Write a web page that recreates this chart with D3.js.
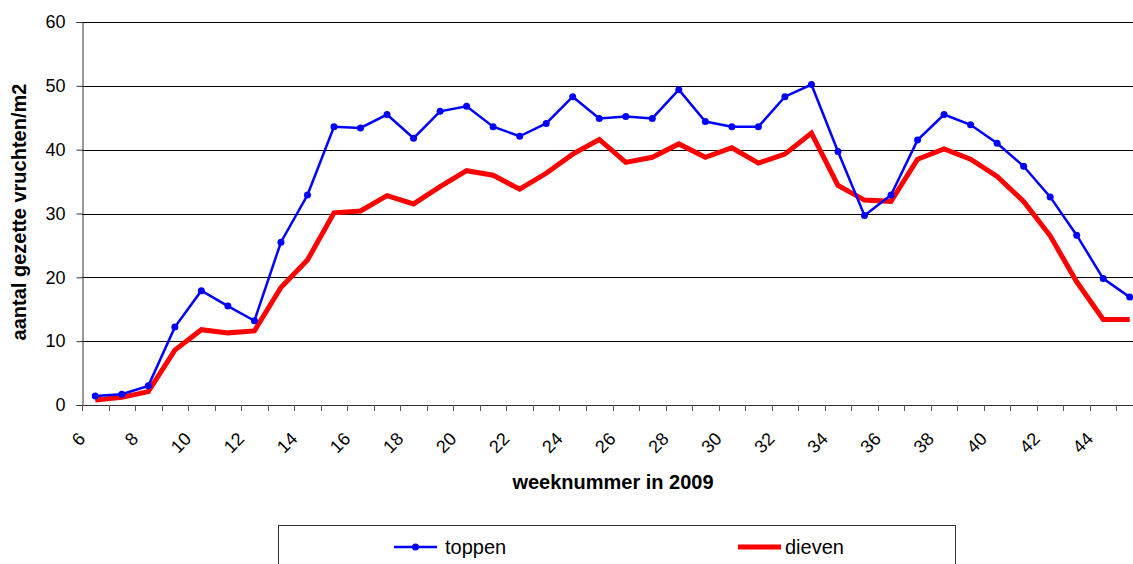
<!DOCTYPE html>
<html>
<head>
<meta charset="utf-8">
<script src="https://cdn.jsdelivr.net/npm/d3@7"></script>
<style>
  html, body { margin: 0; padding: 0; background: #fff; }
  svg { display: block; }
  text { font-family: "Liberation Sans", Arial, sans-serif; fill: #000; }
</style>
</head>
<body>
<svg id="chart" width="1133" height="564"></svg>
<script>
// Week numbers (categories) and counts of set fruits per m2
const weeks = d3.range(6, 46);
const toppen = [1.4, 1.7, 3.0, 12.2, 17.9, 15.5, 13.2, 25.5, 32.9, 43.6,
                43.4, 45.5, 41.8, 46.0, 46.8, 43.6, 42.1, 44.1, 48.3, 44.9,
                45.2, 44.9, 49.4, 44.4, 43.6, 43.6, 48.3, 50.2, 39.7, 29.7,
                32.9, 41.5, 45.5, 43.9, 41.0, 37.4, 32.6, 26.6, 19.8, 16.9];
const dieven = [0.8, 1.2, 2.1, 8.6, 11.8, 11.3, 11.6, 18.4, 22.7, 30.1,
                30.4, 32.8, 31.5, 34.2, 36.7, 36.0, 33.8, 36.3, 39.3, 41.6,
                38.0, 38.8, 40.9, 38.8, 40.3, 37.9, 39.3, 42.6, 34.4, 32.1,
                31.9, 38.5, 40.1, 38.5, 35.8, 31.9, 26.5, 19.3, 13.4, 13.4];
const yTicks = [0, 10, 20, 30, 40, 50, 60];
const xLabelWeeks = weeks.filter(w => w % 2 === 0);

const svg = d3.select("#chart");
const plotLeft = 82, plotRight = 1143, plotTop = 22, plotBottom = 405;

const x = d3.scaleBand().domain(weeks).range([plotLeft, plotRight]).padding(0);
const y = d3.scaleLinear().domain([0, 60]).range([plotBottom, plotTop]);
const cx = w => x(w) + x.bandwidth() / 2;

// horizontal gridlines
svg.append("g")
  .selectAll("line")
  .data(yTicks.filter(t => t > 0))
  .join("line")
  .attr("x1", plotLeft).attr("x2", plotRight)
  .attr("y1", d => Math.round(y(d)) + 0.5)
  .attr("y2", d => Math.round(y(d)) + 0.5)
  .attr("stroke", "#000").attr("stroke-width", 1);

// y axis
const yAxis = svg.append("g")
  .attr("transform", `translate(${plotLeft + 0.5},0)`)
  .call(d3.axisLeft(y).tickValues(yTicks).tickSize(6).tickPadding(11));
yAxis.select(".domain").attr("stroke", "#333");
yAxis.selectAll(".tick line").attr("stroke", "#333");
yAxis.selectAll(".tick text")
  .attr("font-size", 18)
  .attr("font-family", "Liberation Sans, Arial, sans-serif")
  .attr("fill", "#000");

// x axis: baseline, tick marks at category boundaries
const xg = svg.append("g");
xg.append("line")
  .attr("x1", plotLeft).attr("x2", plotRight)
  .attr("y1", plotBottom + 0.5).attr("y2", plotBottom + 0.5)
  .attr("stroke", "#333");
xg.selectAll("line.tk")
  .data(weeks)
  .join("line")
  .attr("class", "tk")
  .attr("x1", d => Math.round(x(d)) + 0.5).attr("x2", d => Math.round(x(d)) + 0.5)
  .attr("y1", plotBottom).attr("y2", plotBottom + 6)
  .attr("stroke", "#555");
xg.selectAll("text")
  .data(xLabelWeeks)
  .join("text")
  .attr("transform", d => `translate(${cx(d) - 9},440) rotate(-45)`)
  .attr("text-anchor", "end")
  .attr("font-size", 18)
  .text(d => d);

// series lines
const line = vals => d3.line()
  .x((d, i) => cx(weeks[i]))
  .y(d => y(d))(vals);

svg.append("path")
  .attr("d", line(dieven))
  .attr("fill", "none")
  .attr("stroke", "#ff0000")
  .attr("stroke-width", 5)
  .attr("stroke-linejoin", "miter");

svg.append("path")
  .attr("d", line(toppen))
  .attr("fill", "none")
  .attr("stroke", "#0000ff")
  .attr("stroke-width", 2.5);

svg.append("g")
  .selectAll("circle")
  .data(toppen)
  .join("circle")
  .attr("cx", (d, i) => cx(weeks[i]))
  .attr("cy", d => y(d))
  .attr("r", 3.5)
  .attr("fill", "#0000ff");

// axis titles
svg.append("text")
  .attr("x", 613).attr("y", 489)
  .attr("text-anchor", "middle")
  .attr("font-size", 20)
  .attr("font-weight", "bold")
  .text("weeknummer in 2009");

svg.append("text")
  .attr("transform", "translate(26,212) rotate(-90)")
  .attr("text-anchor", "middle")
  .attr("font-size", 20)
  .attr("font-weight", "bold")
  .text("aantal gezette vruchten/m2");

// legend
const lg = svg.append("g");
lg.append("rect")
  .attr("x", 278.5).attr("y", 525.5)
  .attr("width", 677).attr("height", 60)
  .attr("fill", "#fff").attr("stroke", "#333");
lg.append("line")
  .attr("x1", 394).attr("x2", 437).attr("y1", 547).attr("y2", 547)
  .attr("stroke", "#0000ff").attr("stroke-width", 2.5);
lg.append("circle")
  .attr("cx", 415.5).attr("cy", 547).attr("r", 3.5).attr("fill", "#0000ff");
lg.append("text")
  .attr("x", 445).attr("y", 554)
  .attr("font-size", 20)
  .text("toppen");
lg.append("line")
  .attr("x1", 738).attr("x2", 781).attr("y1", 547).attr("y2", 547)
  .attr("stroke", "#ff0000").attr("stroke-width", 5);
lg.append("text")
  .attr("x", 785).attr("y", 554)
  .attr("font-size", 20)
  .text("dieven");
</script>
</body>
</html>
